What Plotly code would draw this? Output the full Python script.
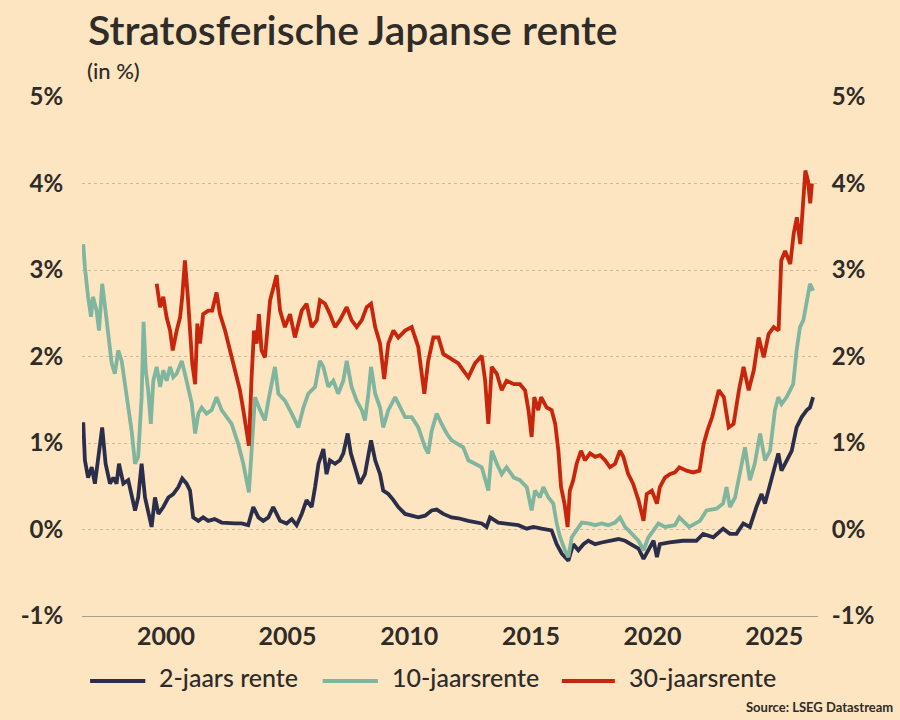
import plotly.graph_objects as go

# decimal years / percent
yrs_2y = [1996.6, 1996.67, 1996.8, 1996.95, 1997.08, 1997.22, 1997.38, 1997.52, 1997.7, 1997.84,
          1997.97, 1998.07, 1998.25, 1998.45, 1998.59, 1998.73, 1998.86, 1999.0, 1999.14, 1999.27,
          1999.41, 1999.55, 1999.69, 1999.89, 2000.1, 2000.3, 2000.51, 2000.67, 2000.85, 2000.99,
          2001.12, 2001.33, 2001.53, 2001.74, 2002.0, 2002.29, 2002.56, 2002.84, 2003.11, 2003.38,
          2003.59, 2003.8, 2004.0, 2004.21, 2004.41, 2004.69, 2004.96, 2005.17, 2005.37, 2005.58,
          2005.78, 2005.99, 2006.13, 2006.27, 2006.47, 2006.6, 2006.74, 2006.95, 2007.15, 2007.29,
          2007.47, 2007.6, 2007.77, 2007.97, 2008.18, 2008.32, 2008.43, 2008.6, 2008.8, 2008.93,
          2009.14, 2009.35, 2009.55, 2009.83, 2010.1, 2010.37, 2010.65, 2010.92, 2011.13, 2011.4,
          2011.74, 2012.02, 2012.43, 2012.98, 2013.18, 2013.32, 2013.66, 2014.07, 2014.48, 2014.83,
          2015.1, 2015.44, 2015.85, 2016.06, 2016.27, 2016.54, 2016.74, 2016.95, 2017.16, 2017.36,
          2017.64, 2017.91, 2018.18, 2018.6, 2018.87, 2019.14, 2019.42, 2019.63, 2019.83, 2020.04,
          2020.18, 2020.3, 2020.7, 2021.25, 2021.8, 2022.08, 2022.5, 2022.9, 2023.18, 2023.45,
          2023.73, 2024.0, 2024.27, 2024.48, 2024.62, 2024.83, 2025.03, 2025.17, 2025.3, 2025.51,
          2025.72, 2025.92, 2026.13, 2026.34, 2026.47, 2026.6]
rate_2y = [1.24, 0.80, 0.60, 0.72, 0.53, 0.80, 1.18, 0.76, 0.53, 0.60,
           0.53, 0.76, 0.53, 0.57, 0.41, 0.22, 0.37, 0.76, 0.37, 0.18,
           0.03, 0.37, 0.18, 0.26, 0.37, 0.41, 0.49, 0.59, 0.53, 0.45,
           0.14, 0.10, 0.14, 0.10, 0.12, 0.08, 0.07, 0.07, 0.07, 0.05,
           0.26, 0.14, 0.10, 0.14, 0.26, 0.10, 0.07, 0.12, 0.05, 0.18,
           0.34, 0.26, 0.49, 0.76, 0.93, 0.64, 0.80, 0.76, 0.80, 0.88,
           1.11, 0.88, 0.72, 0.53, 0.64, 0.84, 1.03, 0.80, 0.64, 0.45,
           0.41, 0.34, 0.26, 0.18, 0.16, 0.14, 0.16, 0.22, 0.23, 0.18,
           0.14, 0.13, 0.10, 0.07, 0.03, 0.14, 0.08, 0.07, 0.05, 0.01,
           0.03, 0.01, -0.01, -0.17, -0.28, -0.36, -0.17, -0.24, -0.17, -0.13,
           -0.17, -0.15, -0.13, -0.11, -0.13, -0.18, -0.22, -0.34, -0.24, -0.13,
           -0.32, -0.17, -0.15, -0.13, -0.13, -0.05, -0.09, 0.01, -0.05, -0.05,
           0.07, 0.03, 0.26, 0.41, 0.30, 0.53, 0.76, 0.88, 0.68, 0.80,
           0.91, 1.18, 1.30, 1.38, 1.41, 1.53]

yrs_10y = [1996.6, 1996.67, 1996.8, 1996.92, 1997.0, 1997.15, 1997.25, 1997.38, 1997.5, 1997.63,
           1997.77, 1997.9, 1998.04, 1998.18, 1998.32, 1998.45, 1998.59, 1998.73, 1998.86, 1999.0,
           1999.08, 1999.17, 1999.27, 1999.38, 1999.48, 1999.62, 1999.76, 1999.89, 2000.03, 2000.17,
           2000.3, 2000.44, 2000.65, 2000.78, 2000.92, 2001.06, 2001.2, 2001.33, 2001.47, 2001.67,
           2001.88, 2002.08, 2002.29, 2002.5, 2002.7, 2002.97, 2003.18, 2003.41, 2003.52, 2003.66,
           2003.87, 2004.07, 2004.21, 2004.48, 2004.62, 2004.89, 2005.17, 2005.44, 2005.65, 2005.85,
           2006.13, 2006.33, 2006.47, 2006.67, 2006.88, 2007.08, 2007.29, 2007.43, 2007.63, 2007.84,
           2008.05, 2008.18, 2008.32, 2008.43, 2008.6, 2008.8, 2008.93, 2009.14, 2009.42, 2009.62,
           2009.83, 2010.1, 2010.37, 2010.65, 2010.78, 2010.92, 2011.13, 2011.33, 2011.54, 2011.74,
           2012.0, 2012.22, 2012.43, 2012.7, 2012.98, 2013.25, 2013.39, 2013.6, 2013.8, 2014.0,
           2014.3, 2014.55, 2014.83, 2015.03, 2015.17, 2015.37, 2015.51, 2015.72, 2015.92, 2016.06,
           2016.2, 2016.4, 2016.54, 2016.68, 2016.88, 2017.09, 2017.36, 2017.64, 2017.91, 2018.18,
           2018.46, 2018.66, 2018.87, 2019.14, 2019.42, 2019.63, 2019.83, 2020.04, 2020.24, 2020.51,
           2020.92, 2021.1, 2021.5, 2021.95, 2022.22, 2022.63, 2022.9, 2023.04, 2023.18, 2023.39,
           2023.59, 2023.8, 2024.0, 2024.2, 2024.42, 2024.62, 2024.83, 2025.03, 2025.17, 2025.3,
           2025.51, 2025.78, 2025.92, 2026.06, 2026.2, 2026.34, 2026.47, 2026.6]
rate_10y = [3.30, 3.03, 2.69, 2.46, 2.69, 2.53, 2.30, 2.84, 2.57, 2.22,
            1.92, 1.80, 2.07, 1.95, 1.69, 1.38, 1.14, 0.76, 0.84, 1.53,
            2.40, 1.84, 1.61, 1.22, 1.72, 1.88, 1.65, 1.84, 1.72, 1.88,
            1.76, 1.80, 1.95, 1.80, 1.65, 1.46, 1.11, 1.34, 1.41, 1.34,
            1.38, 1.53, 1.38, 1.30, 1.22, 0.99, 0.76, 0.43, 0.95, 1.53,
            1.38, 1.26, 1.49, 1.88, 1.57, 1.49, 1.34, 1.18, 1.41, 1.57,
            1.65, 1.95, 1.88, 1.65, 1.72, 1.57, 1.72, 1.95, 1.65, 1.49,
            1.38, 1.26, 1.57, 1.88, 1.57, 1.41, 1.18, 1.38, 1.53, 1.41,
            1.30, 1.30, 1.18, 0.95, 0.88, 1.14, 1.34, 1.22, 1.11, 1.03,
            0.99, 0.95, 0.80, 0.76, 0.72, 0.45, 0.91, 0.76, 0.64, 0.72,
            0.60, 0.57, 0.49, 0.22, 0.45, 0.37, 0.49, 0.37, 0.30, 0.07,
            -0.09, -0.24, -0.32, -0.09, -0.01, 0.08, 0.07, 0.05, 0.07, 0.05,
            0.08, 0.14, 0.03, -0.05, -0.13, -0.24, -0.09, -0.01, 0.07, 0.03,
            0.05, 0.14, 0.03, 0.10, 0.22, 0.24, 0.30, 0.49, 0.26, 0.37,
            0.68, 0.95, 0.57, 0.76, 1.11, 0.80, 0.91, 1.38, 1.53, 1.45,
            1.53, 1.68, 2.07, 2.34, 2.42, 2.65, 2.84, 2.76]

yrs_30y = [1999.62, 1999.76, 1999.89, 2000.03, 2000.17, 2000.28, 2000.44, 2000.58, 2000.67, 2000.78,
           2000.9, 2000.99, 2001.08, 2001.2, 2001.29, 2001.4, 2001.53, 2001.74, 2001.9, 2002.08,
           2002.22, 2002.43, 2002.63, 2002.84, 2003.04, 2003.18, 2003.32, 2003.41, 2003.52, 2003.62,
           2003.73, 2003.82, 2003.93, 2004.07, 2004.28, 2004.55, 2004.69, 2004.89, 2005.1, 2005.3,
           2005.58, 2005.78, 2005.99, 2006.2, 2006.33, 2006.54, 2006.74, 2006.95, 2007.15, 2007.43,
           2007.63, 2007.84, 2008.05, 2008.25, 2008.43, 2008.6, 2008.8, 2008.97, 2009.14, 2009.35,
           2009.55, 2009.83, 2010.1, 2010.37, 2010.62, 2010.78, 2010.99, 2011.2, 2011.4, 2011.61,
           2011.81, 2012.02, 2012.22, 2012.43, 2012.7, 2012.98, 2013.12, 2013.25, 2013.39, 2013.6,
           2013.8, 2014.0, 2014.3, 2014.55, 2014.76, 2014.9, 2015.03, 2015.14, 2015.3, 2015.42,
           2015.65, 2015.85, 2016.0, 2016.13, 2016.24, 2016.38, 2016.51, 2016.6, 2016.74, 2016.88,
           2017.06, 2017.22, 2017.43, 2017.64, 2017.84, 2018.05, 2018.25, 2018.46, 2018.66, 2018.8,
           2019.0, 2019.2, 2019.42, 2019.63, 2019.76, 2019.97, 2020.18, 2020.3, 2020.51, 2020.71,
           2020.92, 2021.1, 2021.4, 2021.66, 2021.93, 2022.1, 2022.25, 2022.45, 2022.72, 2022.93,
           2023.13, 2023.33, 2023.55, 2023.74, 2023.95, 2024.16, 2024.36, 2024.57, 2024.77, 2024.98,
           2025.18, 2025.29, 2025.45, 2025.66, 2025.8, 2025.93, 2026.07, 2026.18, 2026.28, 2026.39,
           2026.48, 2026.55]
rate_30y = [2.84, 2.57, 2.69, 2.45, 2.30, 2.07, 2.30, 2.45, 2.69, 3.11,
            2.69, 2.30, 1.92, 1.68, 2.38, 2.15, 2.49, 2.53, 2.53, 2.74,
            2.49, 2.30, 2.07, 1.84, 1.61, 1.38, 1.14, 0.97, 1.76, 2.30,
            2.15, 2.49, 2.07, 1.99, 2.65, 2.94, 2.53, 2.34, 2.49, 2.22,
            2.53, 2.61, 2.34, 2.42, 2.65, 2.61, 2.49, 2.34, 2.42, 2.57,
            2.42, 2.34, 2.42, 2.57, 2.61, 2.34, 2.15, 1.74, 2.15, 2.30,
            2.22, 2.30, 2.34, 2.11, 1.57, 1.95, 2.22, 2.22, 2.03, 1.99,
            1.95, 1.92, 1.84, 1.76, 1.92, 2.01, 1.72, 1.22, 1.88, 1.80,
            1.61, 1.72, 1.68, 1.68, 1.61, 1.38, 1.07, 1.53, 1.38, 1.53,
            1.41, 1.38, 1.22, 0.91, 0.49, 0.30, 0.03, 0.45, 0.57, 0.76,
            0.91, 0.80, 0.88, 0.84, 0.86, 0.80, 0.72, 0.76, 0.91, 0.84,
            0.64, 0.53, 0.34, 0.10, 0.41, 0.45, 0.30, 0.49, 0.60, 0.64,
            0.66, 0.72, 0.68, 0.66, 0.68, 0.99, 1.14, 1.30, 1.61, 1.53,
            1.18, 1.22, 1.61, 1.88, 1.61, 1.84, 2.22, 1.99, 2.26, 2.34,
            2.30, 3.11, 3.22, 3.07, 3.42, 3.61, 3.30, 3.69, 4.15, 4.03,
            3.77, 4.00]

x_ticks = [2000, 2005, 2010, 2015, 2020, 2025]
y_ticks = [-1, 0, 1, 2, 3, 4, 5]
y_txt = ["-1%", "0%", "1%", "2%", "3%", "4%", "5%"]

names = ["2-jaars rente", "10-jaarsrente", "30-jaarsrente"]
colors = ["#2b2e4a", "#80b59f", "#c8260c"]

BG = "#fde5c1"
INK = "#2e2b28"
FONT = "Lato"

fig = go.Figure()
# 30y sits on the right-hand axis (same scale) so that axis gets drawn
for xs, ys, nm, col, ax in zip([yrs_2y, yrs_10y, yrs_30y], [rate_2y, rate_10y, rate_30y],
                               names, colors, ["y", "y", "y2"]):
    fig.add_trace(go.Scatter(x=xs, y=ys, name=nm, mode="lines", yaxis=ax,
                             line=dict(color=col, width=3.8)))

yax = dict(range=[-1, 5], tickvals=y_ticks, ticktext=y_txt, showgrid=True,
           gridcolor="#cbbb9e", griddash="dot", gridwidth=1, zeroline=False,
           ticks="outside", ticklen=13, tickcolor="rgba(0,0,0,0)", automargin=False,
           tickfont=dict(family=FONT, size=24, color=INK, weight=700), fixedrange=True)

fig.update_layout(
    width=900, height=720,
    paper_bgcolor=BG, plot_bgcolor=BG,
    margin=dict(l=82, r=82, t=97, b=104),
    font=dict(family=FONT, color=INK),
    showlegend=False,
    xaxis=dict(range=[1996.55, 2026.8], tickvals=x_ticks,
               showgrid=False, zeroline=False, showline=True, linecolor="#a99f8f", linewidth=1,
               ticks="", automargin=False, ticklabelstandoff=-2,
               tickfont=dict(family=FONT, size=25, color=INK, weight=700)),
    yaxis=yax,
    yaxis2=dict(yax, overlaying="y", side="right", showgrid=False, ticklen=8),
)

# legend drawn by hand so the key lines get the long strokes of the original
leg_line_x = [(0.011, 0.086), (0.327, 0.402), (0.652, 0.724)]
for (x0, x1), nm, col in zip(leg_line_x, names, colors):
    fig.add_shape(type="line", xref="paper", yref="paper", x0=x0, x1=x1, y0=-0.125, y1=-0.125,
                  line=dict(color=col, width=4))
    fig.add_annotation(text=nm, xref="paper", yref="paper", x=x1 + 0.016, y=-0.118,
                       xanchor="left", yanchor="middle", showarrow=False,
                       font=dict(family=FONT, size=25, color=INK, weight=500))

fig.add_annotation(text="Stratosferische Japanse rente", xref="paper", yref="paper",
                   x=0.005, y=1.13, xanchor="left", yanchor="middle", showarrow=False,
                   font=dict(family=FONT, size=41, color=INK, weight=600))
fig.add_annotation(text="(in %)", xref="paper", yref="paper",
                   x=0.004, y=1.052, xanchor="left", yanchor="middle", showarrow=False,
                   font=dict(family=FONT, size=22, color=INK, weight=500))
fig.add_annotation(text="Source: LSEG Datastream", xref="paper", yref="paper",
                   x=1.104, y=-0.175, xanchor="right", yanchor="middle", showarrow=False,
                   font=dict(family=FONT, size=13, color=INK, weight=700))

# the page body keeps its default 8px margin otherwise; drop it and match the paper colour
fig.write_html("out.html", config={"displayModeBar": False},
               post_script="document.body.style.margin='0';"
                           "document.body.style.background='" + BG + "';")
